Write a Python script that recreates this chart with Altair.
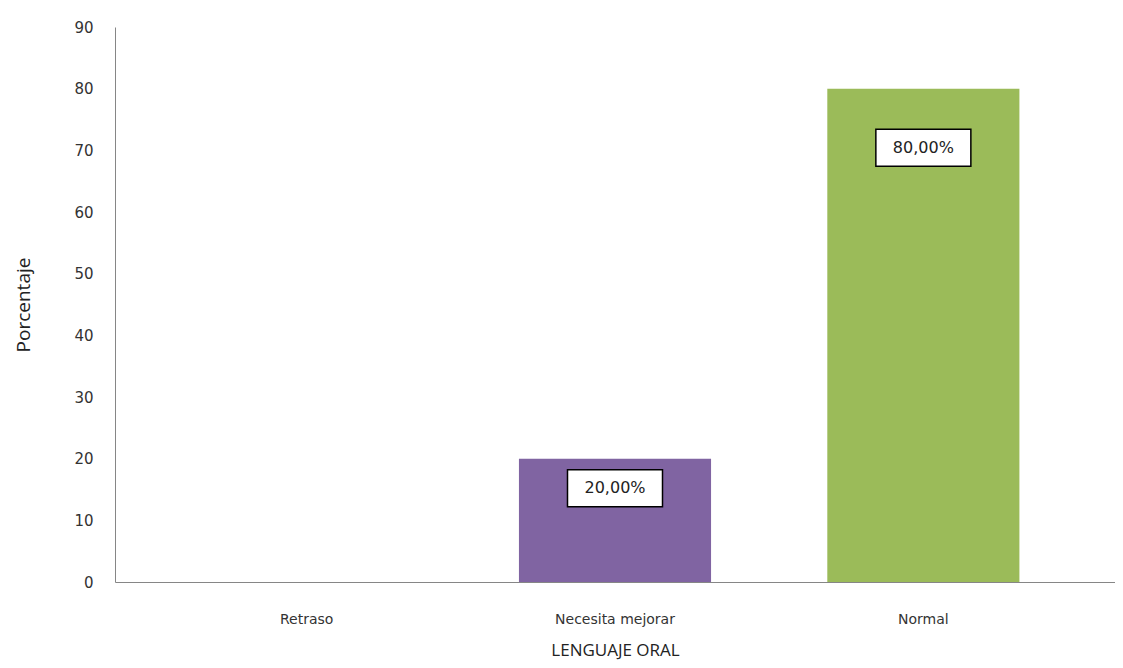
import altair as alt
import pandas as pd

categories = ["Retraso", "Necesita mejorar", "Normal"]
values = [0, 20, 80]
labels = ["", "20,00%", "80,00%"]
colors = ["#8064A2", "#8064A2", "#9BBB59"]

df = pd.DataFrame({"cat": categories, "val": values, "lab": labels, "col": colors})

x = alt.X("cat:N", sort=categories, title="LENGUAJE ORAL",
          scale=alt.Scale(paddingInner=0.377, paddingOuter=0.31),
          axis=alt.Axis(labelAngle=0, ticks=False, grid=False, domainColor="#868686",
                        labelFont="DejaVu Sans", labelFontSize=14, labelColor="#333333",
                        labelPadding=30, titleFont="Open Sans", titleFontSize=17,
                        titleFontWeight="normal", titleColor="#222222", titlePadding=16))
y = alt.Y("val:Q", title="Porcentaje",
          scale=alt.Scale(domain=[0, 90]),
          axis=alt.Axis(values=list(range(0, 91, 10)), grid=False, ticks=False,
                        domainColor="#868686", labelFont="DejaVu Sans", labelFontSize=15,
                        labelColor="#333333", labelPadding=22,
                        titleFont="Open Sans", titleFontSize=19, titleFontWeight="normal",
                        titleColor="#222222", titlePadding=40))

bars = alt.Chart(df).mark_bar().encode(
    x=x, y=y, color=alt.Color("col:N", scale=None)
)

lab_df = df[df["lab"] != ""]
base = alt.Chart(lab_df).transform_calculate(ly="datum.val*0.92-3.2")

boxes = base.mark_rect(fill="white", stroke="black", strokeWidth=1.5, width=95, height=37).encode(
    x=alt.X("cat:N", sort=categories),
    y=alt.Y("ly:Q", scale=alt.Scale(domain=[0, 90])),
)
texts = base.mark_text(font="DejaVu Sans", fontSize=16, color="#222222").encode(
    x=alt.X("cat:N", sort=categories),
    y=alt.Y("ly:Q", scale=alt.Scale(domain=[0, 90])),
    text="lab:N",
)

chart = alt.layer(bars, boxes, texts).properties(
    width=1000, height=555,
    background="white",
    autosize=alt.AutoSizeParams(type="none"),
    padding={"left": 107, "top": 19, "right": 0, "bottom": 86},
).configure_view(strokeWidth=0, stroke=None).configure_axis(grid=False)

chart.save("out.html", embed_options={"renderer": "svg", "actions": False})
